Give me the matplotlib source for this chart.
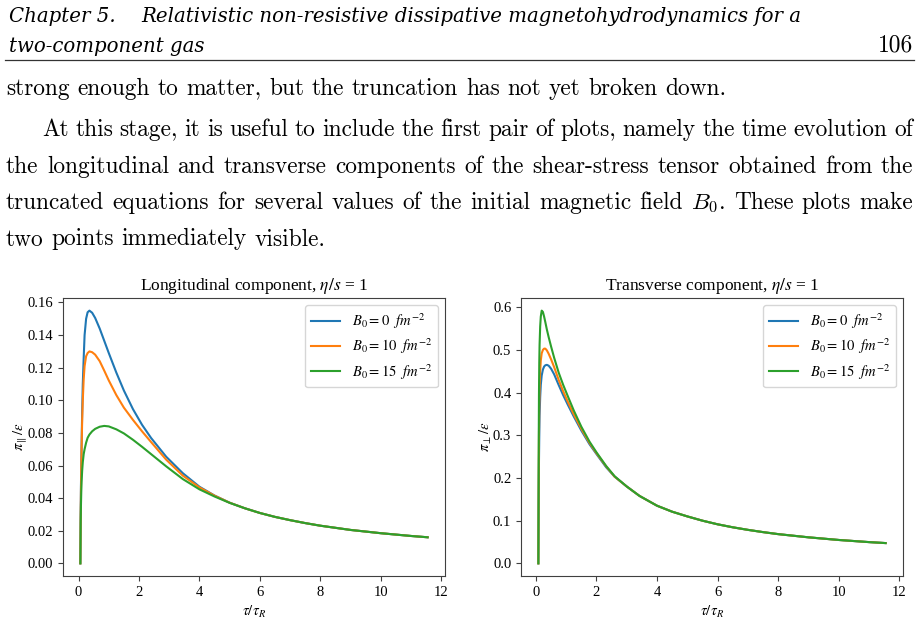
import matplotlib
matplotlib.use("Agg")
import matplotlib.pyplot as plt
from matplotlib.lines import Line2D

# ---- page text ----
header_chapter = "Chapter 5."
header_title_1 = "Relativistic non-resistive dissipative magnetohydrodynamics for a"
header_title_2 = "two-component gas"
page_number = "106"
body_lines = [
    "strong enough to matter, but the truncation has not yet broken down.",
    "At this stage, it is useful to include the first pair of plots, namely the time evolution of",
    "the longitudinal and transverse components of the shear-stress tensor obtained from the",
    "truncated equations for several values of the initial magnetic field $B_0$. These plots make",
    "two points immediately visible.",
]

# ---- data ----
labels = [r"$B_0 = 0\ \ fm^{-2}$", r"$B_0 = 10\ \ fm^{-2}$", r"$B_0 = 15\ \ fm^{-2}$"]

tau_long = [0.06, 0.07, 0.08, 0.09, 0.10, 0.12, 0.14, 0.17, 0.20, 0.25, 0.30, 0.36,
            0.45, 0.55, 0.70, 0.85, 1.0, 1.25, 1.5, 1.8, 2.1, 2.4, 2.9, 3.45, 4.0,
            4.5, 5.0, 5.5, 6.0, 6.5, 7.0, 7.5, 8.0, 9.0, 10.0, 11.0, 11.55]
long_b0 = [0.0, 0.030, 0.048, 0.060, 0.072, 0.093, 0.110, 0.126, 0.140, 0.150, 0.154, 0.155,
           0.1537, 0.1505, 0.1440, 0.1365, 0.1290, 0.1170, 0.1060, 0.0946, 0.0850, 0.0769, 0.0654, 0.0553, 0.0470,
           0.0416, 0.0372, 0.0338, 0.0309, 0.0285, 0.0265, 0.0247, 0.0231, 0.0205, 0.0185, 0.0168, 0.0160]
long_b10 = [0.0, 0.028, 0.045, 0.058, 0.070, 0.088, 0.100, 0.113, 0.121, 0.127, 0.129, 0.130,
            0.1295, 0.1280, 0.1240, 0.1182, 0.1122, 0.1032, 0.0955, 0.0880, 0.0810, 0.0744, 0.0636, 0.0538, 0.0466,
            0.0415, 0.0372, 0.0338, 0.0309, 0.0285, 0.0265, 0.0247, 0.0231, 0.0205, 0.0185, 0.0168, 0.0160]
long_b15 = [0.0, 0.025, 0.036, 0.044, 0.050, 0.057, 0.062, 0.067, 0.070, 0.074, 0.077, 0.079,
            0.081, 0.0825, 0.0838, 0.0843, 0.0840, 0.0822, 0.0797, 0.0758, 0.0715, 0.0670, 0.0595, 0.0517, 0.0454,
            0.0410, 0.0371, 0.0338, 0.0309, 0.0285, 0.0265, 0.0247, 0.0231, 0.0205, 0.0185, 0.0168, 0.0160]

tau_trans = [0.08, 0.09, 0.10, 0.11, 0.12, 0.14, 0.16, 0.19, 0.23, 0.27, 0.31, 0.36,
             0.42, 0.50, 0.60, 0.75, 0.90, 1.05, 1.25, 1.5, 1.77, 2.0, 2.32, 2.6,
             3.0, 3.42, 4.0, 4.5, 5.0, 5.5, 6.0, 6.5, 7.0, 7.5, 8.0, 9.0, 10.0, 11.0, 11.55]
trans_b0 = [0.0, 0.14, 0.24, 0.30, 0.345, 0.39, 0.418, 0.440, 0.454, 0.461, 0.464, 0.465,
            0.463, 0.456, 0.443, 0.418, 0.394, 0.372, 0.344, 0.311, 0.279, 0.256, 0.225, 0.203,
            0.180, 0.158, 0.135, 0.121, 0.110, 0.100, 0.0915, 0.0845, 0.0785, 0.0732, 0.0685,
            0.061, 0.0548, 0.0498, 0.0475]
trans_b10 = [0.0, 0.18, 0.30, 0.37, 0.41, 0.45, 0.475, 0.492, 0.500, 0.503, 0.503, 0.499,
             0.491, 0.478, 0.460, 0.430, 0.403, 0.379, 0.349, 0.315, 0.282, 0.258, 0.227, 0.203,
             0.180, 0.158, 0.135, 0.121, 0.110, 0.100, 0.0915, 0.0845, 0.0785, 0.0732, 0.0685,
             0.061, 0.0548, 0.0498, 0.0475]
trans_b15 = [0.0, 0.25, 0.395, 0.47, 0.512, 0.555, 0.578, 0.592, 0.589, 0.578, 0.565, 0.548,
             0.530, 0.508, 0.482, 0.447, 0.418, 0.392, 0.358, 0.320, 0.285, 0.260, 0.228, 0.204,
             0.180, 0.158, 0.135, 0.121, 0.110, 0.100, 0.0915, 0.0845, 0.0785, 0.0732, 0.0685,
             0.061, 0.0548, 0.0498, 0.0475]

plt.rcParams['font.family'] = ['Liberation Serif', 'DejaVu Serif']
plt.rcParams['mathtext.fontset'] = 'stix'
plt.rcParams['font.size'] = 10.5
plt.rcParams['axes.edgecolor'] = '0.25'
plt.rcParams['xtick.color'] = '0.25'
plt.rcParams['ytick.color'] = '0.25'
plt.rcParams['xtick.labelcolor'] = 'black'
plt.rcParams['ytick.labelcolor'] = 'black'

W, H = 920, 622
fig = plt.figure(figsize=(W / 100, H / 100), dpi=100)
renderer = fig.canvas.get_renderer()


def fx(x):
    return x / W


def fy(y):
    return 1 - y / H


def width_of(t):
    return t.get_window_extent(renderer).width


BODY = dict(family='cmr10', va='baseline', math_fontfamily='cm', color='black')
HEAD = dict(family='DejaVu Serif', style='italic', va='baseline', color='black')

# fit the body font so that the first (unjustified) line spans 6..727 px
probe = fig.text(0, 0, body_lines[0], size=10, **BODY)
body_size = 10 * 721 / width_of(probe)
probe.remove()

# space width of body font
a = fig.text(0, 0, "x x", size=body_size, **BODY)
b = fig.text(0, 0, "xx", size=body_size, **BODY)
space_w = width_of(a) - width_of(b)
a.remove()
b.remove()


def put_line(line, x0, x1, y, justify):
    words = line.split(' ')
    objs = [fig.text(0, fy(y), w, size=body_size, **BODY) for w in words]
    widths = [width_of(o) for o in objs]
    gap = (x1 - x0 - sum(widths)) / (len(words) - 1) if justify else space_w
    x = x0
    for o, w in zip(objs, widths):
        o.set_x(fx(x))
        x += w + gap


# header
probe = fig.text(0, 0, header_title_1, size=10, **HEAD)
head_size = 10 * 661 / width_of(probe)
probe.remove()
fig.text(fx(9), fy(22.5), header_chapter, size=head_size, **HEAD)
fig.text(fx(141), fy(22.5), header_title_1, size=head_size, **HEAD)
fig.text(fx(9), fy(51.5), header_title_2, size=head_size, **HEAD)
fig.text(fx(913), fy(51.5), page_number, size=body_size, ha='right', **BODY)
fig.add_artist(Line2D([fx(5), fx(914)], [fy(60), fy(60)], color='0.2', lw=0.9,
                      transform=fig.transFigure))

# body paragraph
put_line(body_lines[0], 6, 913, 95, False)
put_line(body_lines[1], 42, 913, 136, True)
put_line(body_lines[2], 6, 913, 172.5, True)
put_line(body_lines[3], 6, 913, 209, True)
put_line(body_lines[4], 6, 913, 245.5, False)

# plots
ax1 = fig.add_axes([fx(63), fy(576), 382 / W, 278 / H])
ax2 = fig.add_axes([fx(521), fy(576), 382 / W, 278 / H])

for y, lab in zip([long_b0, long_b10, long_b15], labels):
    ax1.plot(tau_long, y, label=lab)
for y, lab in zip([trans_b0, trans_b10, trans_b15], labels):
    ax2.plot(tau_trans, y, label=lab)

ax1.set_title(r"Longitudinal component, $\eta/s$ = 1", fontsize=12.5)
ax2.set_title(r"Transverse component, $\eta/s$ = 1", fontsize=12.5)
ax1.set_ylabel(r"$\pi_{\parallel}/\epsilon$", labelpad=-1)
ax2.set_ylabel(r"$\pi_{\perp}/\epsilon$", labelpad=-1)
for ax in (ax1, ax2):
    ax.set_xlabel(r"$\tau/\tau_R$")
    ax.set_xticks([0, 2, 4, 6, 8, 10, 12])
    ax.legend(loc='upper right', fontsize=10.5, labelspacing=0.4)
ax1.set_yticks([0.0, 0.02, 0.04, 0.06, 0.08, 0.10, 0.12, 0.14, 0.16])

fig.savefig("out.png", dpi=100)
